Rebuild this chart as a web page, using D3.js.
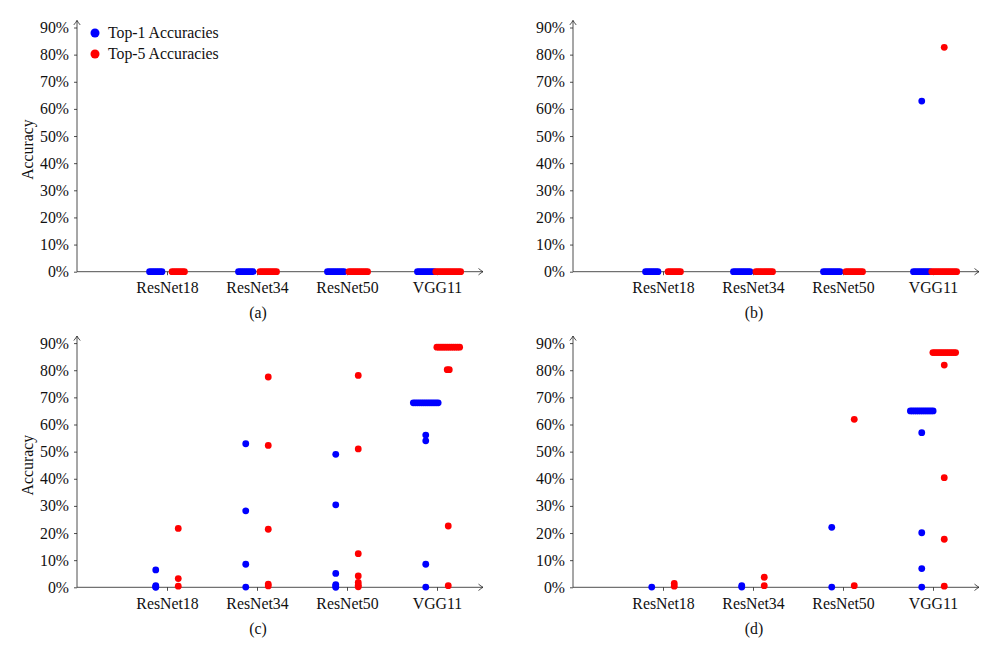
<!DOCTYPE html>
<html>
<head>
<meta charset="utf-8">
<script src="https://cdn.jsdelivr.net/npm/d3@7"></script>
<style>
  html, body { margin: 0; padding: 0; background: #fff; }
  svg { display: block; }
</style>
</head>
<body>
<svg id="chart" width="996" height="660"></svg>
<script>
// ---------------- DATA ----------------
const models = ["ResNet18", "ResNet34", "ResNet50", "VGG11"];
const yTicks = [0, 10, 20, 30, 40, 50, 60, 70, 80, 90];
const panelLabels = ["(a)", "(b)", "(c)", "(d)"];
const seriesNames = ["Top-1 Accuracies", "Top-5 Accuracies"];

// each model: list of [accuracy %, number of runs with that value]
const top1A = [[[0, 7]], [[0, 8]], [[0, 9]], [[0, 9]]];
const top5A = [[[0, 7]], [[0, 9]], [[0, 10]], [[0, 13]]];

const top1B = [[[0, 7]], [[0, 9]], [[0, 9]], [[0, 9], [62.9, 1]]];
const top5B = [[[0, 7]], [[0, 9]], [[0, 9]], [[0, 13], [82.7, 1]]];

const top1C = [
  [[6.4, 1], [0.6, 1], [0.2, 1], [0, 1]],
  [[52.9, 1], [28.2, 1], [8.5, 1], [0.1, 1]],
  [[49.0, 1], [30.4, 1], [5.1, 1], [1.0, 1], [0.5, 1], [0, 1]],
  [[68.0, 13], [56.1, 1], [54.0, 1], [8.5, 1], [0.1, 1]]
];
const top5C = [
  [[21.7, 1], [3.2, 1], [0.4, 1]],
  [[77.5, 1], [52.3, 1], [21.4, 1], [1.2, 1], [0.5, 1]],
  [[78.1, 1], [51.0, 1], [12.4, 1], [4.2, 1], [1.8, 1], [0.8, 1], [0.2, 1]],
  [[88.5, 12], [80.2, 2], [22.6, 1], [0.6, 1]]
];

const top1D = [
  [[0.1, 1]],
  [[0.6, 1], [0.1, 1]],
  [[22.1, 1], [0.1, 1]],
  [[65.0, 12], [57.0, 1], [20.1, 1], [6.9, 1], [0.1, 1]]
];
const top5D = [
  [[1.4, 1], [0.4, 1]],
  [[3.7, 1], [0.6, 1]],
  [[61.9, 1], [0.6, 1]],
  [[86.5, 12], [81.9, 1], [40.4, 1], [17.7, 1], [0.4, 1]]
];

const panelsTop1 = [top1A, top1B, top1C, top1D];
const panelsTop5 = [top5A, top5B, top5C, top5D];
const colors = ["#0000ff", "#ff0000"];

// ---------------- DRAW ----------------
const FONT = "Liberation Serif";
const FS = 15.8;
const svg = d3.select("#chart");

function styleText(sel) {
  return sel.attr("font-family", FONT).attr("font-size", FS).attr("fill", "#111");
}

const seriesOffset = [-0.125, 0.125];  // category units
const step = 0.023;                     // spread of identical runs
const R = 3.4;

function arrow(g, x, y, dir) {
  let p;
  if (dir === "right") p = `M${x - 4.5},${y - 3.2} Q${x - 1.5},${y - 0.8} ${x},${y} Q${x - 1.5},${y + 0.8} ${x - 4.5},${y + 3.2}`;
  else p = `M${x - 3.2},${y + 4.5} Q${x - 0.8},${y + 1.5} ${x},${y} Q${x + 0.8},${y + 1.5} ${x + 3.2},${y + 4.5}`;
  g.append("path").attr("d", p).attr("fill", "none").attr("stroke", "#222").attr("stroke-width", 0.8);
}

for (let p = 0; p < 4; p++) {
  const col = p % 2, row = Math.floor(p / 2);
  const x0 = 77 + 496 * col;
  const y0 = 271.7 + 315.6 * row;

  const x = d3.scaleLinear().domain([0, 4.5]).range([x0, x0 + 405]);
  const y = d3.scaleLinear().domain([0, 90]).range([y0, y0 - 244.2]);

  const g = svg.append("g");

  // y axis
  const ya = g.append("g").attr("transform", `translate(${x0},0)`)
    .call(d3.axisLeft(y).tickValues(yTicks).tickFormat(d => d + "%").tickSize(3).tickPadding(5).tickSizeOuter(0));
  ya.attr("font-family", null).attr("font-size", null);
  ya.select(".domain").remove();
  ya.selectAll("line").attr("stroke", "#222").attr("stroke-width", 0.8);
  styleText(ya.selectAll("text"));

  // x axis
  const xa = g.append("g").attr("transform", `translate(0,${y0})`)
    .call(d3.axisBottom(x).tickValues([1, 2, 3, 4]).tickFormat(d => models[d - 1]).tickSize(3.5).tickPadding(6.8).tickSizeOuter(0));
  xa.attr("font-family", null).attr("font-size", null);
  xa.select(".domain").remove();
  xa.selectAll("line").attr("stroke", "#222").attr("stroke-width", 0.8);
  styleText(xa.selectAll("text"));

  // axis lines with arrows
  g.append("line").attr("x1", x0).attr("x2", x0).attr("y1", y0).attr("y2", y(92.6))
    .attr("stroke", "#222").attr("stroke-width", 0.8);
  arrow(g, x0, y(92.6), "up");
  g.append("line").attr("x1", x0).attr("x2", x(4.5) + 1).attr("y1", y0).attr("y2", y0)
    .attr("stroke", "#222").attr("stroke-width", 0.8);
  arrow(g, x(4.5) + 1, y0, "right");

  // y label
  if (col === 0) {
    styleText(g.append("text"))
      .attr("transform", `translate(33,${(y(0) + y(90)) / 2}) rotate(-90)`)
      .attr("text-anchor", "middle")
      .text("Accuracy");
  }

  // caption
  styleText(g.append("text")).attr("x", x0 + 181).attr("y", y0 + 46.5)
    .attr("text-anchor", "middle")
    .text(panelLabels[p]);

  // points
  [panelsTop1[p], panelsTop5[p]].forEach((series, s) => {
    const pts = [];
    series.forEach((groups, mi) => {
      groups.forEach(([v, n]) => {
        for (let k = 0; k < n; k++) {
          pts.push({ xv: mi + 1 + seriesOffset[s] + (k - (n - 1) / 2) * step, v });
        }
      });
    });
    g.append("g").selectAll("circle").data(pts).join("circle")
      .attr("cx", d => x(d.xv)).attr("cy", d => y(d.v)).attr("r", R)
      .attr("fill", colors[s]);
  });

  // legend
  if (p === 0) {
    seriesNames.forEach((name, i) => {
      const ly = y(90) + 5.5 + 21 * i;
      g.append("circle").attr("cx", x0 + 18).attr("cy", ly).attr("r", 4.5).attr("fill", colors[i]);
      styleText(g.append("text")).attr("x", x0 + 31).attr("y", ly + 5.3).text(name);
    });
  }
}
</script>
</body>
</html>
